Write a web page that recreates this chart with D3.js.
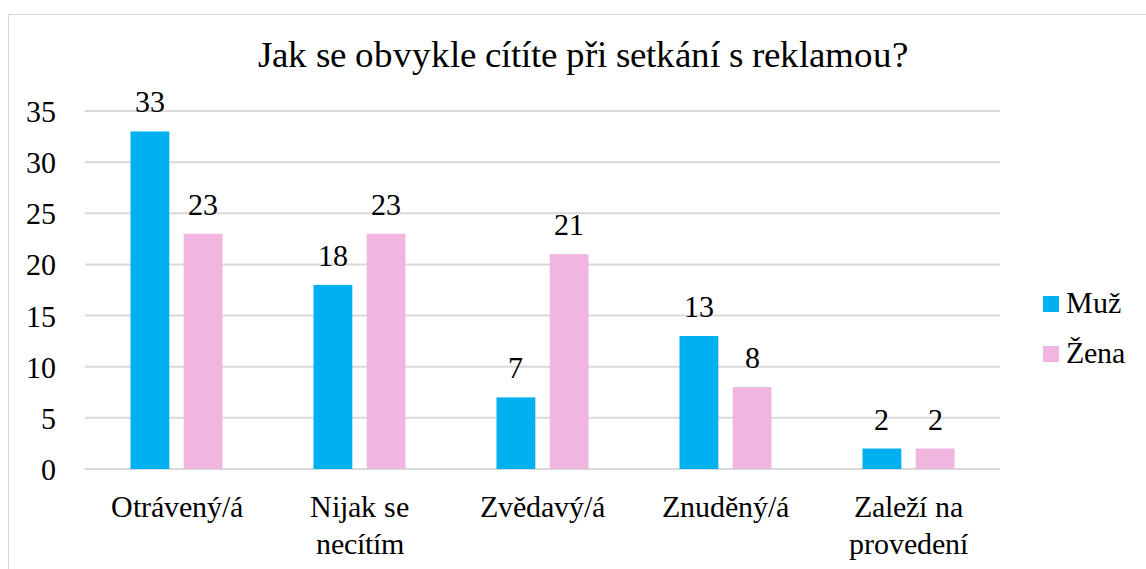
<!DOCTYPE html>
<html><head><meta charset="utf-8">
<script src="https://cdn.jsdelivr.net/npm/d3@7"></script>
<style>
@font-face{font-family:"ChartSerif";src:local("Liberation Serif"),local("LiberationSerif"),local("Times New Roman");}
body{margin:0;background:#fff}
</style>
</head><body><svg id="c" width="1146" height="569"></svg>
<script>
const categories = [["Otrávený/á"], ["Nijak se", "necítím"], ["Zvědavý/á"], ["Znuděný/á"], ["Zaleží na", "provedení"]];
const seriesNames = ["Muž", "Žena"];
const muz = [33, 18, 7, 13, 2];
const zena = [23, 23, 21, 8, 2];
const yTicks = [0, 5, 10, 15, 20, 25, 30, 35];
const colors = ["#00b0f0", "#f0b6e0"];
const chartTitle = "Jak se obvykle cítíte při setkání s reklamou?";

const FONT = "ChartSerif, 'Liberation Serif', serif";
const svg = d3.select("#c");
function txt(sel, size) {
  return sel.attr("font-family", FONT).attr("font-size", size).attr("fill", "#000")
    .style("font-family", FONT).style("font-size", size + "px");
}
svg.append("rect").attr("x", 8.5).attr("y", 14.5).attr("width", 1146).attr("height", 600)
  .attr("fill", "none").attr("stroke", "#d9d9d9");

const pL = 85, pR = 1000, pT = 111, pB = 469;
const y = d3.scaleLinear().domain([0, 35]).range([pB, pT]);
const x0 = d3.scaleBand().domain(d3.range(categories.length)).range([pL, pR]);
const x1 = d3.scaleBand().domain([0, 1]).range([x0.bandwidth() / 2 - 46, x0.bandwidth() / 2 + 46]).paddingInner(0.27);

txt(svg.append("text").attr("x", 583).attr("y", 67).attr("text-anchor", "middle"), 37).text(chartTitle);

const grid = svg.append("g");
yTicks.forEach(t => {
  grid.append("line").attr("x1", pL).attr("x2", pR).attr("y1", y(t)).attr("y2", y(t))
    .attr("stroke", "#d9d9d9").attr("stroke-width", 2);
});
const yAxis = d3.axisLeft(y).tickValues(yTicks).tickSize(0).tickPadding(0);
const ga = svg.append("g").attr("transform", "translate(56,0)").call(yAxis);
ga.attr("font-family", FONT).attr("font-size", 30);
ga.select(".domain").remove();
txt(ga.selectAll("text"), 30).attr("dy", "0.35em");

[muz, zena].forEach((vals, si) => {
  const g = svg.append("g");
  vals.forEach((v, i) => {
    const bx = x0(i) + x1(si);
    g.append("rect").attr("x", bx).attr("y", y(v)).attr("width", x1.bandwidth()).attr("height", y(0) - y(v))
      .attr("fill", colors[si]);
    txt(g.append("text").attr("x", bx + x1.bandwidth() / 2).attr("y", y(v) - 19).attr("text-anchor", "middle"), 30).text(v);
  });
});

categories.forEach((lines, i) => {
  const cx = x0(i) + x0.bandwidth() / 2;
  const t = txt(svg.append("text").attr("x", cx).attr("y", 517).attr("text-anchor", "middle"), 30);
  lines.forEach((l, k) => t.append("tspan").attr("x", cx).attr("y", 517 + k * 37).text(l));
});

seriesNames.forEach((n, i) => {
  const ly = 296 + i * 50;
  svg.append("rect").attr("x", 1043).attr("y", ly).attr("width", 16).attr("height", 16).attr("fill", colors[i]);
  txt(svg.append("text").attr("x", 1066).attr("y", ly + 17), 30).text(n);
});
</script></body></html>
